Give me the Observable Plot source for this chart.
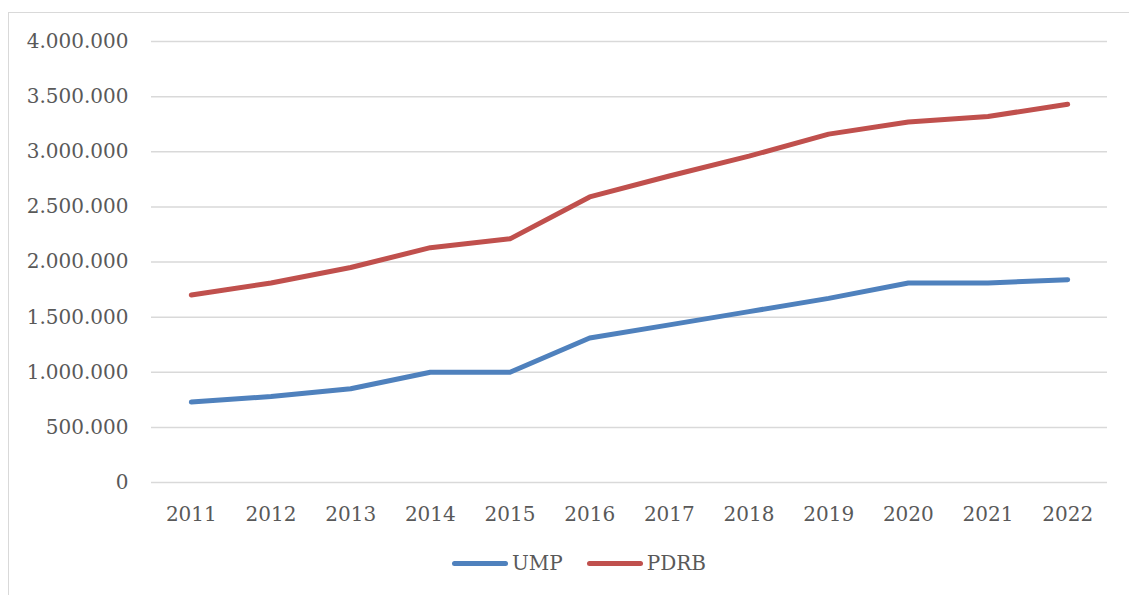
<!DOCTYPE html>
<html>
<head>
<meta charset="utf-8">
<script src="https://cdn.jsdelivr.net/npm/d3@7"></script>
<script src="https://cdn.jsdelivr.net/npm/@observablehq/plot@0.6"></script>
<style>
  html, body { margin: 0; padding: 0; background: #fff; overflow: hidden; }
  #wrap { position: relative; width: 1129px; height: 595px; overflow: hidden; }
  #frame { position: absolute; left: 8px; top: 12px; width: 1200px; height: 700px; border: 1.5px solid #d9d9d9; box-sizing: border-box; }
  #chart { position: absolute; left: 0; top: 0; }
  #legend { position: absolute; left: 452px; top: 551px; display: flex; align-items: center; font-family: "DejaVu Serif", serif; font-size: 20px; color: #595959; }
  .sw { display: inline-block; width: 56px; height: 5px; border-radius: 3px; }
  .lab { margin-left: 4px; }
</style>
</head>
<body>
<div id="wrap">
  <div id="frame"></div>
  <div id="chart"></div>
  <div id="legend"></div>
</div>
<script>
const years = ["2011","2012","2013","2014","2015","2016","2017","2018","2019","2020","2021","2022"];
const ump  = [730000, 780000, 850000, 1000000, 1000000, 1310000, 1430000, 1550000, 1670000, 1810000, 1810000, 1840000];
const pdrb = [1700000, 1810000, 1950000, 2130000, 2210000, 2590000, 2780000, 2960000, 3160000, 3270000, 3320000, 3430000];
const seriesNames = ["UMP", "PDRB"];
const seriesColors = ["#4f81bd", "#c0504d"];
const yTicks = [0, 500000, 1000000, 1500000, 2000000, 2500000, 3000000, 3500000, 4000000];

const data = [];
years.forEach((y, i) => {
  data.push({year: y, series: "UMP", value: ump[i]});
  data.push({year: y, series: "PDRB", value: pdrb[i]});
});

const fmt = v => d3.format(",")(v).replace(/,/g, ".");

const chart = Plot.plot({
  width: 1129,
  height: 540,
  marginLeft: 151,
  marginRight: 22,
  marginTop: 41,
  marginBottom: 58,
  style: { fontFamily: "DejaVu Serif, serif", fontSize: "20px", color: "#595959", background: "transparent" },
  x: { type: "point", domain: years, padding: 0.5, round: false, label: null },
  y: { domain: [0, 4000000], label: null },
  color: { domain: seriesNames, range: seriesColors },
  marks: [
    Plot.ruleY(yTicks, { stroke: "#d9d9d9", strokeWidth: 1.5 }),
    Plot.axisY({ ticks: yTicks, tickFormat: fmt, tickSize: 0, tickPadding: 23, label: null, fill: "#595959" }),
    Plot.axisX({ tickSize: 0, tickPadding: 24, label: null, fill: "#595959" }),
    Plot.line(data, { x: "year", y: "value", z: "series", stroke: "series", strokeWidth: 5, strokeLinecap: "round", strokeLinejoin: "round" })
  ]
});
document.getElementById("chart").appendChild(chart);

const legend = document.getElementById("legend");
seriesNames.forEach((name, i) => {
  const item = document.createElement("span");
  item.style.display = "flex";
  item.style.alignItems = "center";
  if (i > 0) item.style.marginLeft = "24px";
  const sw = document.createElement("span");
  sw.className = "sw";
  sw.style.background = seriesColors[i];
  const lab = document.createElement("span");
  lab.className = "lab";
  lab.textContent = name;
  item.appendChild(sw);
  item.appendChild(lab);
  legend.appendChild(item);
});
</script>
</body>
</html>
